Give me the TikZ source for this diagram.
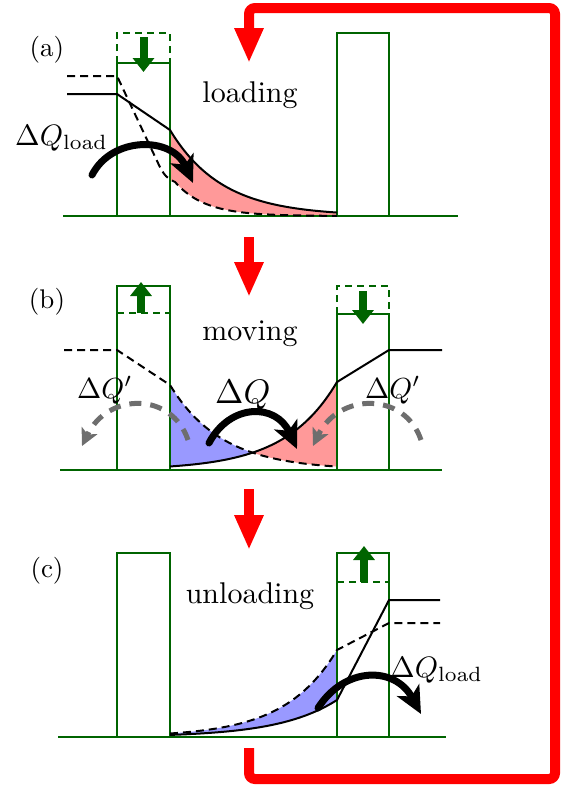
\documentclass[tikz,border=0pt]{standalone}
\usetikzlibrary{arrows.meta}
\definecolor{wallgreen}{RGB}{0,100,0}
\definecolor{pinkfill}{RGB}{255,153,153}
\definecolor{bluefill}{RGB}{153,153,255}
\definecolor{loopred}{RGB}{255,0,0}
\definecolor{leakgray}{RGB}{110,110,110}

\begin{document}
\begin{tikzpicture}[x=1pt,y=-1pt,
  wall/.style={wallgreen,line width=2.2pt},
  wallold/.style={wallgreen,line width=2pt,dash pattern=on 7pt off 5pt},
  gate/.style={wallgreen,line width=8pt,-{Triangle[length=14pt,width=21pt]}},
  curve/.style={black,line width=2pt},
  oldcurve/.style={black,line width=2pt,dash pattern=on 8pt off 5pt},
  heat/.style={black,line width=7pt,line cap=round,-{Stealth[length=27pt,width=25pt,inset=7pt]}},
  leak/.style={leakgray,line width=5pt,dash pattern=on 12pt off 9pt,-{Stealth[length=17pt,width=17pt,inset=4pt]}},
  cyclearrow/.style={loopred,line width=10pt,-{Triangle[length=35pt,width=27pt]}},
  txt/.style={inner sep=0pt},
  qtxt/.style={inner sep=0pt,anchor=base west}]
\useasboundingbox (0,0) rectangle (564,788);

% (a) loading
\fill[pinkfill] plot[domain=170:337,samples=60] (\x,{216-86*exp(-(\x-170)/52)})
  -- plot[domain=337:175,samples=60] (\x,{216-34*exp(-(\x-175)/30)}) -- (170,180) -- cycle;
\draw[wall] (63,216) -- (458,216);
\draw[wall] (117,216) rectangle (170,63);
\draw[wallold] (117,63) -- (117,33) -- (170,33) -- (170,63);
\draw[wall] (337,216) rectangle (389,33);
\draw[gate] (143.5,37) -- (143.5,72);
\draw[curve] (67,94) -- (117,94) -- (170,130)
  -- plot[domain=170:337,samples=60] (\x,{216-86*exp(-(\x-170)/52)});
\draw[oldcurve] (67,76) -- (117,76) -- (158,163) .. controls (164,176) and (168,179) .. (175,182)
  -- plot[domain=175:337,samples=60] (\x,{216-34*exp(-(\x-175)/30)});
\draw[heat] (92,175) .. controls (112,136) and (172,136) .. (193,183);
\node[txt] (labelA) at (47,50) {\scalebox{2.7}{(a)}};
\node[txt,anchor=base] (loading) at (250,102) {\scalebox{3}{loading}};
\node[qtxt] (qloadA) at (15,145) {\scalebox{2.95}{$\Delta Q_{\mathrm{load}}$}};

% (b) moving
\fill[bluefill] plot[domain=170:252.6,samples=40] (\x,{470-85*exp(-(\x-170)/52)})
  -- plot[domain=252.6:170,samples=40] (\x,{470-88*exp(-(337-\x)/52)}) -- cycle;
\fill[pinkfill] plot[domain=252.6:337,samples=40] (\x,{470-88*exp(-(337-\x)/52)})
  -- plot[domain=337:252.6,samples=40] (\x,{470-85*exp(-(\x-170)/52)}) -- cycle;
\draw[wall] (60,470) -- (442,470);
\draw[wall] (117,470) rectangle (170,286);
\draw[wallold] (117,313) -- (170,313);
\draw[wall] (337,470) rectangle (389,314);
\draw[wallold] (337,314) -- (337,286) -- (389,286) -- (389,314);
\draw[gate] (141,313) -- (141,282);
\draw[gate] (363,291) -- (363,324);
\draw[oldcurve] (64,350) -- (117,350) -- (170,385)
  -- plot[domain=170:337,samples=60] (\x,{470-85*exp(-(\x-170)/52)});
\draw[curve] plot[domain=170:337,samples=60] (\x,{470-88*exp(-(337-\x)/52)})
  -- (389,350) -- (442,350);
\draw[heat] (209,443) .. controls (230,403) and (276,403) .. (297,449);
\draw[leak] (188,440) .. controls (172,392) and (108,392) .. (82,446);
\draw[leak] (421,440) .. controls (405,392) and (339,392) .. (313,446);
\node[txt] (labelB) at (47,302) {\scalebox{2.7}{(b)}};
\node[txt,anchor=base] (moving) at (250,340) {\scalebox{3}{moving}};
\node[qtxt] (qleakL) at (77,398) {\scalebox{2.9}{$\Delta Q'$}};
\node[qtxt] (qmove) at (215,403) {\scalebox{3.4}{$\Delta Q$}};
\node[qtxt] (qleakR) at (365,398) {\scalebox{2.9}{$\Delta Q'$}};

% (c) unloading
\fill[bluefill] plot[domain=170:337,samples=60] (\x,{737-87*exp(-(337-\x)/52)})
  -- plot[domain=337:170,samples=60] (\x,{737-37*exp(-(337-\x)/58)}) -- cycle;
\draw[wall] (58,737) -- (446,737);
\draw[wall] (117,737) rectangle (170,553);
\draw[wall] (337,737) rectangle (389,553);
\draw[wallold] (337,582) -- (389,582);
\draw[gate] (364,582) -- (364,546);
\draw[curve] plot[domain=170:337,samples=60] (\x,{737-37*exp(-(337-\x)/58)})
  -- (389,600) -- (440,600);
\draw[oldcurve] plot[domain=170:337,samples=60] (\x,{737-87*exp(-(337-\x)/52)})
  -- (389,623) -- (440,623);
\draw[heat] (318,708) .. controls (345,666) and (395,666) .. (421,714);
\node[txt] (labelC) at (47,571) {\scalebox{2.7}{(c)}};
\node[txt,anchor=base] (unloading) at (250,603) {\scalebox{3}{unloading}};
\node[qtxt] (qloadC) at (390,677) {\scalebox{2.95}{$\Delta Q_{\mathrm{load}}$}};

% cycle arrows
\coordinate (stepAB) at (249,237);
\coordinate (stepAB-end) at (249,297);
\coordinate (stepBC) at (249,489);
\coordinate (stepBC-end) at (249,550);
\coordinate (back) at (249,748);
\coordinate (backin) at (249,63);
\draw[cyclearrow] (stepAB) -- (stepAB-end);
\draw[cyclearrow] (stepBC) -- (stepBC-end);
\draw[cyclearrow,rounded corners=6pt] (back) -- (249,779) -- (555,779) -- (555,8) -- (249,8) -- (backin);
\end{tikzpicture}
\end{document}
